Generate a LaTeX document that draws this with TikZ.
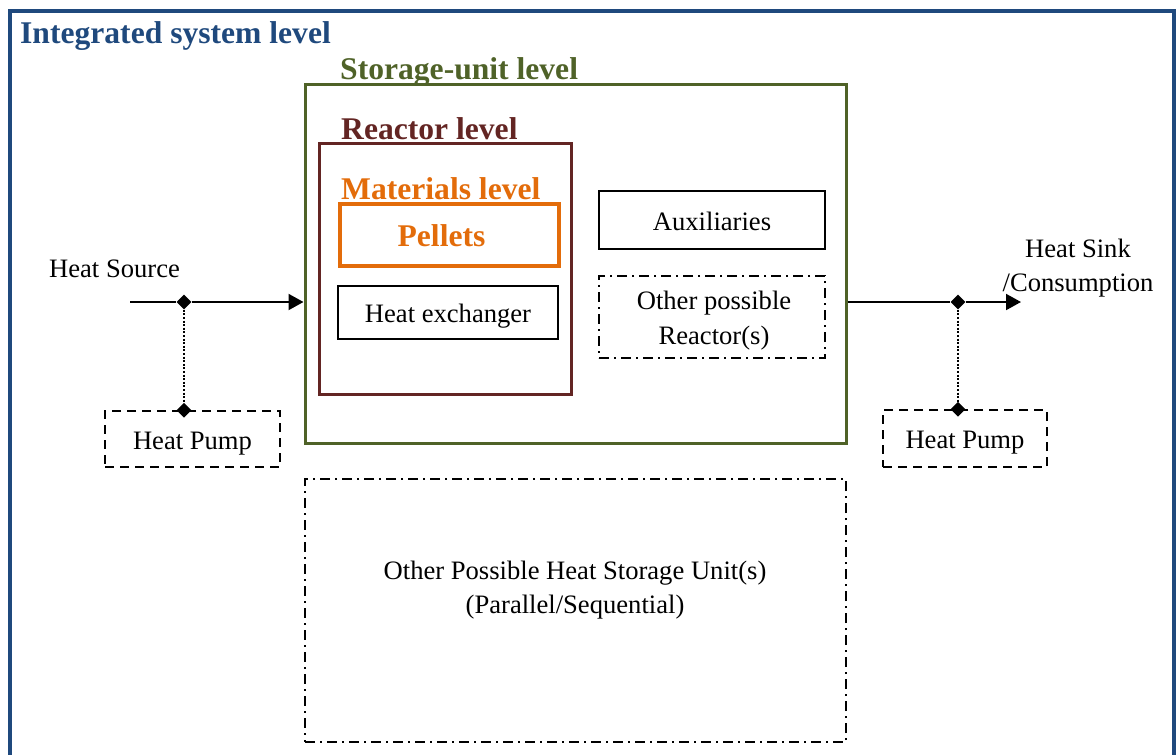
\documentclass[tikz,border=0pt]{standalone}
\usepackage{fontspec}
\setmainfont{Liberation Serif}
\usetikzlibrary{positioning, arrows.meta, shapes.geometric}

\definecolor{syscol}{RGB}{31,73,125}
\definecolor{unitcol}{RGB}{79,98,40}
\definecolor{reactcol}{RGB}{99,37,35}
\definecolor{matcol}{RGB}{227,108,10}

\begin{document}
\begin{tikzpicture}[
  x=1pt, y=-1pt,
  txt/.style={font=\fontsize{26.6}{34}\selectfont},
  lvl/.style={font=\fontsize{31.6}{36}\selectfont\bfseries, anchor=base west, inner sep=0},
  plainbox/.style={draw, line width=1.6pt, inner sep=0, txt, align=center},
  onebox/.style={plainbox, text height=26pt, text depth=6pt},
  pumpbox/.style={onebox, dash pattern=on 9pt off 6pt},
  otherbox/.style={plainbox, dash pattern=on 10pt off 5pt on 2pt off 5pt},
  flow/.style={-{Triangle[length=15pt, width=16pt]}, line width=2pt},
  tap/.style={line width=2pt, dash pattern=on 2pt off 1.6pt},
  junc/.style={diamond, fill=black, inner sep=0, minimum size=15pt}
]
\useasboundingbox (0,0) rectangle (1176,755);
\clip (0,0) rectangle (1176,755);

% outer frame (open at the bottom of the page)
\draw[syscol, line width=4pt] (9.5,790) |- (1174,11) -- (1174,790);
\node[lvl, text=syscol] (systitle) at (20,43) {Integrated system level};

% storage unit and its reactor
\node[draw=unitcol, line width=3pt, minimum width=541pt, minimum height=359pt] (unit) at (575.5,263.5) {};
\node[lvl, text=unitcol] (unittitle) at (340,79) {Storage-unit level};
\node[draw=reactcol, line width=3pt, minimum width=252pt, minimum height=251pt] (reactor) at (445,268.5) {};
\node[lvl, text=reactcol] (reacttitle) at (341,139) {Reactor level};
\node[lvl, text=matcol] (mattitle) at (341,199) {Materials level};
\node[draw=matcol, line width=4.5pt, minimum width=219pt, minimum height=62pt, text=matcol,
  text height=28pt, text depth=5pt,
  font=\fontsize{31.6}{36}\selectfont\bfseries] (pellets) at (449.5,235) {\hspace*{-16pt}Pellets};
\node[onebox, minimum width=220pt, minimum height=53pt] (hex) at (448,312.5) {Heat exchanger};
\node[onebox, minimum width=226pt, minimum height=58pt] (aux) at (712,220) {Auxiliaries};
\node[otherbox, minimum width=226pt, minimum height=82pt] (otherreact) at (712,317) {};
\node[txt, align=center] (otherreactlabel) at (714,321) {Other possible\\[1pt]Reactor(s)};

% more units below
\node[otherbox, minimum width=541pt, minimum height=263pt] (otherunits) at (575.5,610.5) {};
\node[txt, align=center] (otherlabel) at (575,590) {Other Possible Heat Storage Unit(s)\\(Parallel/Sequential)};

% heat in
\node[txt, anchor=base, inner sep=0] (source) at (114.5,277) {Heat Source};
\coordinate (srcin) at (130,302);
\node[junc] (jl) at (184,302) {};
\draw[flow] (srcin) -- (jl) -- (jl -| unit.west);
\node[pumpbox, minimum width=175pt, minimum height=56pt] (pumpl) at (192.5,439) {Heat Pump};
\node[junc] (jlpump) at (pumpl.north -| jl) {};
\draw[tap] (jl) -- (jlpump);

% heat out
\node[txt, align=center] (sink) at (1078,268) {Heat Sink\\/Consumption};
\coordinate (sinkout) at (1021,302);
\node[junc] (jr) at (958,302) {};
\draw[flow] (unit.east |- jr) -- (jr) -- (sinkout);
\node[pumpbox, minimum width=164pt, minimum height=57pt] (pumpr) at (965,438.5) {Heat Pump};
\node[junc] (jrpump) at (pumpr.north -| jr) {};
\draw[tap] (jr) -- (jrpump);

\end{tikzpicture}
\end{document}
